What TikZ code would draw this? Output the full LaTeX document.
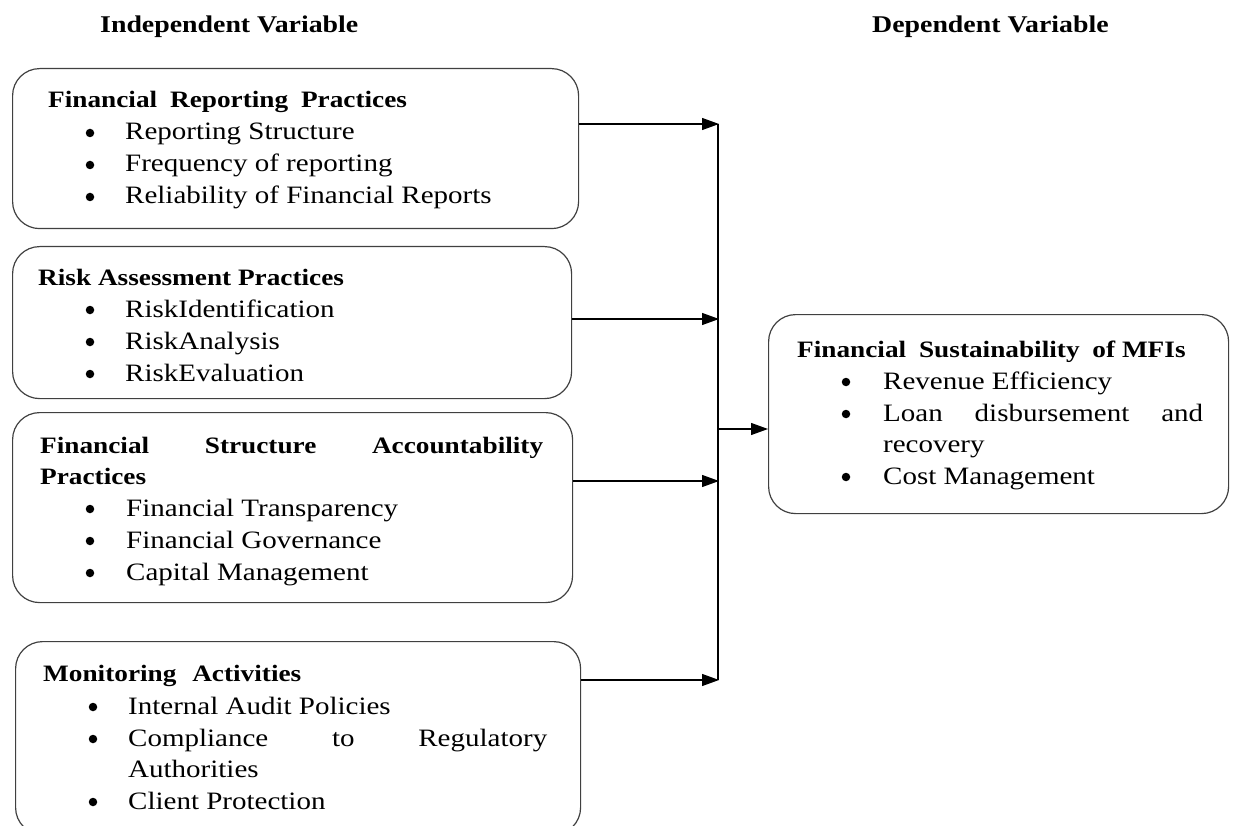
\documentclass[tikz,border=0pt]{standalone}
\usepackage{fontspec}
\setmainfont{Liberation Serif}[FakeStretch=1.16]
\usetikzlibrary{arrows.meta}
\begin{document}
\begin{tikzpicture}[x=1pt,y=-1pt,
  panel/.style={draw=black!75, line width=1.2pt, rounded corners=27pt,
                anchor=north west, inner sep=0pt},
  txt/.style={anchor=base west, inner sep=0pt, font=\fontsize{25}{30}\selectfont},
  ttl/.style={anchor=base west, inner sep=0pt, font=\fontsize{23.5}{30}\selectfont\bfseries},
  hdr/.style={anchor=base west, inner sep=0pt, font=\fontsize{24}{30}\selectfont\bfseries},
  dot/.style={circle, fill=black, inner sep=0pt, minimum size=8.5pt},
  link/.style={draw=black, line width=1.2pt},
  feed/.style={link, -{Triangle[length=17pt,width=12pt]}}
]
\useasboundingbox (0,0) rectangle (1233,826);

% column headings
\node[hdr] (hind) at (100,33) {Independent Variable};
\node[hdr] (hdep) at (872,33) {Dependent Variable};

% ---- Financial reporting practices
\node[panel, minimum width=566pt, minimum height=160pt] (frp) at (12,68) {};
\node[ttl] (frp-t) at (48,108) {Financial\hspace{6pt} Reporting\hspace{6pt} Practices};
\node[dot] (frp-d1) at (90,133) {};
\node[txt] (frp-1) at (125,140) {Reporting Structure};
\node[dot] (frp-d2) at (90,165) {};
\node[txt] (frp-2) at (125,172) {Frequency of reporting};
\node[dot] (frp-d3) at (90,197) {};
\node[txt] (frp-3) at (125,204) {Reliability of Financial Reports};

% ---- Risk assessment practices
\node[panel, minimum width=559pt, minimum height=152pt] (rap) at (12,246) {};
\node[ttl] (rap-t) at (38,285) {Risk Assessment Practices};
\node[dot] (rap-d1) at (90,310) {};
\node[txt] (rap-1) at (125,317) {RiskIdentification};
\node[dot] (rap-d2) at (90,342) {};
\node[txt] (rap-2) at (125,349) {RiskAnalysis};
\node[dot] (rap-d3) at (90,374) {};
\node[txt] (rap-3) at (125,381) {RiskEvaluation};

% ---- Financial structure accountability practices
\node[panel, minimum width=560pt, minimum height=190pt] (fsa) at (12,412) {};
\node[ttl] (fsa-t1) at (40,453) {\makebox[503pt][s]{Financial Structure Accountability}};
\node[ttl] (fsa-t2) at (40,484) {Practices};
\node[dot] (fsa-d1) at (90,509) {};
\node[txt] (fsa-1) at (126,516) {Financial Transparency};
\node[dot] (fsa-d2) at (90,541) {};
\node[txt] (fsa-2) at (126,548) {Financial Governance};
\node[dot] (fsa-d3) at (90,573) {};
\node[txt] (fsa-3) at (126,580) {Capital Management};

% ---- Monitoring activities
\node[panel, minimum width=565pt, minimum height=193pt] (mon) at (15,641) {};
\node[ttl] (mon-t) at (43,681) {Monitoring\hspace{9pt} Activities};
\node[dot] (mon-d1) at (93,707) {};
\node[txt] (mon-1) at (128,714) {Internal Audit Policies};
\node[dot] (mon-d2) at (93,739) {};
\node[txt] (mon-2) at (128,746) {\makebox[419pt][s]{Compliance to Regulatory}};
\node[txt] (mon-2b) at (128,777) {Authorities};
\node[dot] (mon-d3) at (93,802) {};
\node[txt] (mon-3) at (128,809) {Client Protection};

% ---- Financial sustainability of MFIs
\node[panel, minimum width=460pt, minimum height=199pt] (mfi) at (768,314) {};
\node[ttl] (mfi-t) at (797,357) {Financial\hspace{6pt} Sustainability\hspace{6pt} of MFIs};
\node[dot] (mfi-d1) at (846,382) {};
\node[txt] (mfi-1) at (883,389) {Revenue Efficiency};
\node[dot] (mfi-d2) at (846,414) {};
\node[txt] (mfi-2) at (883,421) {\makebox[320pt][s]{Loan disbursement and}};
\node[txt] (mfi-2b) at (883,452) {recovery};
\node[dot] (mfi-d3) at (846,477) {};
\node[txt] (mfi-3) at (883,484) {Cost Management};

% ---- connectors
\coordinate (j1) at (719,124);
\coordinate (j2) at (719,319);
\coordinate (j3) at (719,481);
\coordinate (j4) at (719,680);
\coordinate (jm) at (718,429);
\draw[link] (718,124) -- (718,680);
\draw[feed] (frp.east |- j1) -- (j1);
\draw[feed] (rap.east |- j2) -- (j2);
\draw[feed] (fsa.east |- j3) -- (j3);
\draw[feed] (mon.east |- j4) -- (j4);
\draw[feed] (jm) -- (mfi.west |- jm);
\end{tikzpicture}
\end{document}
